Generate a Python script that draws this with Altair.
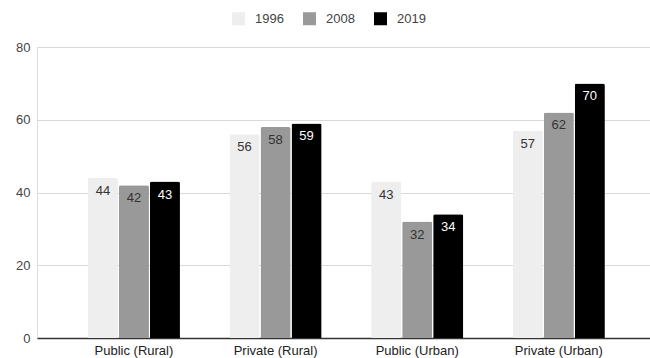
import altair as alt
import pandas as pd

# School enrolment share (%) by sector and area, three survey years
categories = ["Public (Rural)", "Private (Rural)", "Public (Urban)", "Private (Urban)"]
years = ["1996", "2008", "2019"]
v1996 = [44, 56, 43, 57]
v2008 = [42, 58, 32, 62]
v2019 = [43, 59, 34, 70]
colors = ["#eeeeee", "#999999", "#000000"]

rows = []
for yr, vals in zip(years, [v1996, v2008, v2019]):
    for cat, v in zip(categories, vals):
        rows.append({"category": cat, "year": yr, "value": v})
df = pd.DataFrame(rows)

FONT = "Liberation Sans"

x = alt.X(
    "category:N",
    sort=categories,
    title=None,
    scale=alt.Scale(paddingInner=0.35, paddingOuter=0.339, align=0.53),
    axis=alt.Axis(
        labelAngle=0, ticks=False, grid=False,
        domainColor="#333333", domainWidth=1.5,
        labelFontSize=13, labelColor="#222222", labelPadding=6, labelFont=FONT,
    ),
)
xoff = alt.XOffset("year:N", sort=years, scale=alt.Scale(paddingInner=0.03))
y = alt.Y(
    "value:Q",
    scale=alt.Scale(domain=[0, 80]),
    axis=alt.Axis(
        values=[0, 20, 40, 60, 80], title=None, domain=False, ticks=False,
        gridColor="#d9d9d9", labelFontSize=13, labelColor="#444444",
        labelPadding=7, labelFont=FONT,
    ),
)

bars = alt.Chart(df).mark_bar(cornerRadiusTopLeft=2, cornerRadiusTopRight=2).encode(
    x=x,
    xOffset=xoff,
    y=y,
    color=alt.Color(
        "year:N",
        sort=years,
        scale=alt.Scale(domain=years, range=colors),
        legend=alt.Legend(
            orient="none", legendX=195, legendY=-35, direction="horizontal",
            title=None, symbolType="square", symbolSize=169, symbolStrokeWidth=0,
            labelFontSize=13, labelColor="#444444", labelFont=FONT,
            columnPadding=19, labelOffset=10,
        ),
    ),
)

labels = alt.Chart(df).mark_text(baseline="top", dy=7, fontSize=13, font=FONT).encode(
    x=x,
    xOffset=xoff,
    y=y,
    text="value:Q",
    color=alt.condition(alt.datum.year == "2019", alt.value("#ffffff"), alt.value("#333333")),
)

chart = (
    alt.layer(bars, labels)
    .properties(
        width=613,
        height=291,
        autosize=alt.AutoSizeParams(type="none"),
        padding={"left": 37, "top": 47, "right": 0, "bottom": 20},
    )
    .configure_view(stroke=None)
    .configure(font=FONT)
)

chart.save("out.html", embed_options={"renderer": "svg", "actions": False})
